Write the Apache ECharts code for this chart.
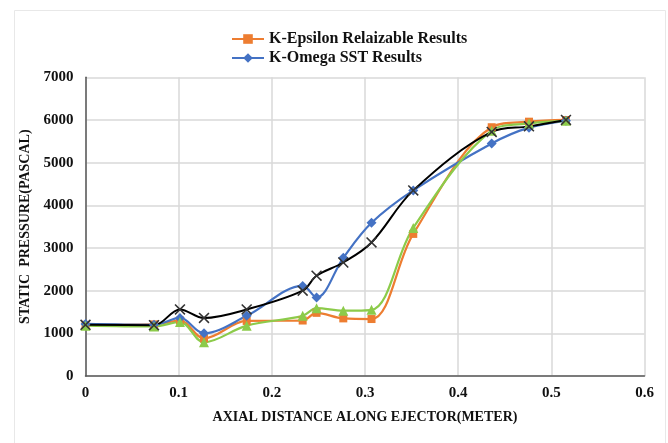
<!DOCTYPE html>
<html><head><meta charset="utf-8">
<script src="https://cdn.jsdelivr.net/npm/echarts@6/dist/echarts.min.js"></script>
<style>html,body{margin:0;padding:0;background:#fff}#c{width:668px;height:443px}</style>
</head><body><div id="c"></div>
<script>
var xs = [0, 0.0735, 0.1014, 0.1272, 0.173, 0.2331, 0.248, 0.2767, 0.307, 0.3518, 0.436, 0.476, 0.5157];
var kEpsilon = [1200, 1210, 1300, 880, 1290, 1300, 1480, 1350, 1335, 3330, 5830, 5960, 6000];
var kOmega = [1220, 1200, 1360, 1000, 1410, 2110, 1840, 2770, 3590, 4350, 5450, 5820, 5980];
var greenSeries = [1180, 1160, 1265, 790, 1180, 1410, 1590, 1530, 1550, 3470, 5750, 5920, 5980];
var blackSeries = [1200, 1190, 1560, 1360, 1560, 2000, 2350, 2660, 3130, 4350, 5720, 5850, 6000];
var seriesNames = ['K-Epsilon Relaizable Results', 'K-Omega SST Results', 'Series 3', 'Series 4'];

function pairs(ys){ return xs.map(function(x,i){ return [x, ys[i]]; }); }
var FONT = '"Liberation Serif", "Times New Roman", serif';
var xMark = 'path://M0,1L1,0L5,4L9,0L10,1L6,5L10,9L9,10L5,6L1,10L0,9L4,5Z';

var chart = echarts.init(document.getElementById('c'), null, {renderer:'canvas'});
chart.setOption({
  animation: false,
  backgroundColor: '#fff',
  graphic: [{type:'rect', shape:{x:14.5, y:10.5, width:651, height:440}, style:{fill:'none', stroke:'#e8e8e8', lineWidth:1}, z:-1}],
  legend: {
    data: [seriesNames[0], seriesNames[1]],
    orient: 'vertical', left: 226, top: 26,
    itemWidth: 32, itemHeight: 12, itemGap: 3,
    textStyle: {fontFamily: FONT, fontWeight: 'bold', fontSize: 16, color: '#111'}
  },
  grid: {left: 85.5, right: 23.5, top: 77.3, bottom: 67, containLabel: false},
  xAxis: {
    type: 'value', min: 0, max: 0.6, interval: 0.1,
    name: 'AXIAL DISTANCE ALONG EJECTOR(METER)', nameLocation: 'middle', nameGap: 34,
    nameTextStyle: {fontFamily: FONT, fontWeight: 'bold', fontSize: 14, color: '#111'},
    axisLine: {lineStyle: {color: '#595959', width: 1.5}},
    axisTick: {show: false},
    axisLabel: {fontFamily: FONT, fontWeight: 'bold', fontSize: 15, color: '#111', margin: 10},
    splitLine: {show: true, lineStyle: {color: '#d9d9d9', width: 1.5}}
  },
  yAxis: {
    type: 'value', min: 0, max: 7000, interval: 1000,
    name: 'STATIC  PRESSURE(PASCAL)', nameLocation: 'middle', nameGap: 46,
    nameTextStyle: {fontFamily: FONT, fontWeight: 'bold', fontSize: 14, color: '#111'},
    axisLine: {show: true, lineStyle: {color: '#595959', width: 1.5}},
    axisTick: {show: false},
    axisLabel: {fontFamily: FONT, fontWeight: 'bold', fontSize: 15, color: '#111', margin: 12,
      formatter: function(v){ return String(v); }},
    splitLine: {show: true, lineStyle: {color: '#d9d9d9', width: 1.5}}
  },
  series: [
    {name: seriesNames[0], type: 'line', data: pairs(kEpsilon), smooth: 0.35,
     symbol: 'rect', symbolSize: 8, itemStyle: {color: '#ED7D31'}, lineStyle: {color: '#ED7D31', width: 2.2}},
    {name: seriesNames[1], type: 'line', data: pairs(kOmega), smooth: 0.35,
     symbol: 'diamond', symbolSize: 10, itemStyle: {color: '#4472C4'}, lineStyle: {color: '#4472C4', width: 2.2}},
    {name: seriesNames[2], type: 'line', data: pairs(greenSeries), smooth: 0.35,
     symbol: 'triangle', symbolSize: 10, itemStyle: {color: '#8CCB4A'}, lineStyle: {color: '#8CCB4A', width: 2.2}},
    {name: seriesNames[3], type: 'line', data: pairs(blackSeries), smooth: 0.35,
     symbol: xMark, symbolSize: 11, itemStyle: {color: '#333'}, lineStyle: {color: '#000', width: 2}}
  ]
});
</script></body></html>
